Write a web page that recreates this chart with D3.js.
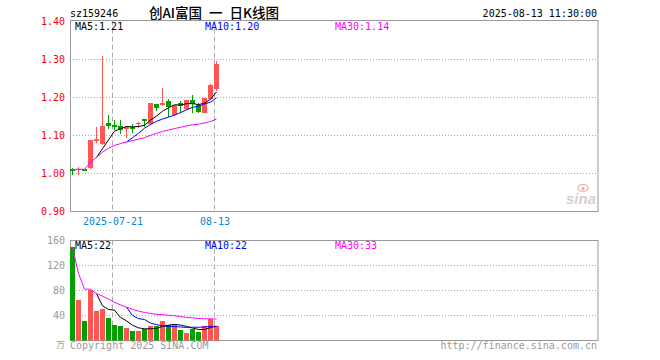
<!DOCTYPE html>
<html><head><meta charset="utf-8">
<script src="https://cdn.jsdelivr.net/npm/d3@7"></script>
<style>html,body{margin:0;padding:0;background:#fff}svg{display:block}</style>
</head><body><svg id="c" width="660" height="360"></svg>
<script>
// ---- data ----
const dates = ["2025-07-10","2025-07-11","2025-07-14","2025-07-15","2025-07-16","2025-07-17","2025-07-18",
 "2025-07-21","2025-07-22","2025-07-23","2025-07-24","2025-07-25","2025-07-28","2025-07-29","2025-07-30",
 "2025-07-31","2025-08-01","2025-08-04","2025-08-05","2025-08-06","2025-08-07","2025-08-08","2025-08-11",
 "2025-08-12","2025-08-13"];
const openP  = [1.013,1.012,1.013,1.017,1.087,1.080,1.134,1.128,1.126,1.120,1.122,1.132,1.143,1.134,1.183,1.183,1.192,1.156,1.185,1.172,1.194,1.181,1.163,1.199,1.225];
const closeP = [1.010,1.013,1.010,1.087,1.091,1.126,1.128,1.126,1.117,1.122,1.120,1.134,1.141,1.185,1.175,1.185,1.178,1.181,1.181,1.194,1.186,1.165,1.199,1.234,1.289];
const highP  = [1.014,1.018,1.013,1.087,1.122,1.310,1.155,1.141,1.141,1.126,1.131,1.135,1.143,1.185,1.183,1.226,1.196,1.181,1.190,1.194,1.207,1.185,1.200,1.236,1.297];
const lowP   = [0.999,1.000,1.008,1.015,1.084,1.078,1.119,1.117,1.106,1.096,1.108,1.122,1.124,1.131,1.168,1.181,1.152,1.154,1.162,1.170,1.163,1.162,1.162,1.197,1.221];
const volume = [149,65.6,32,81.6,47,51.2,36.8,25.6,24,19.7,16,16,18,23.5,23.5,32,25.6,24.5,17.6,12.8,19.2,14.4,23.5,34,23];
const priceTicks = [0.90,1.00,1.10,1.20,1.30,1.40];
const volTicks = [40,80,120,160];
const dateMarks = ["2025-07-21","2025-08-13"];
const dateMarkLabels = ["2025-07-21","08-13"];
const priceMALabels = ["MA5:1.21","MA10:1.20","MA30:1.14"];
const volMALabels = ["MA5:22","MA10:22","MA30:33"];
const maPeriods = [5,10,30];

// ---- layout ----
const L = 70, R = 598;
const pTop = 20.5, pBot = 211.5, vTop = 240.5, vBot = 340.5;
const RED = "#ff5555", GREEN = "#00a000", GRID = "#aaaaaa", FRAME = "#999999";
const maColors = ["#000000", "#0000ff", "#ff00ff"];
const mono = "'DejaVu Sans Mono', monospace";

const svg = d3.select("#c");
const x = d3.scaleLinear().domain([0, 88]).range([69.5, 597.5]);
const cx = i => Math.round(x(i + 0.5) - 0.5) + 0.5;
const y = d3.scaleLinear().domain([0.9, 1.4]).range([211.5, 21.5]);
const yv = d3.scaleLinear().domain([0, 160]).range([vBot, vTop]);

function ma(arr, n) {
  return arr.map((v, i) => {
    if (n >= 30) { const s = arr.slice(0, i + 1); return d3.mean(s); }
    if (i < n - 1) return null;
    return d3.mean(arr.slice(i - n + 1, i + 1));
  });
}

// ---- titles ----
svg.append("text").attr("x", 70).attr("y", 16.5).attr("font-family", mono).attr("font-size", 10)
  .attr("fill", "#000").text("sz159246");
svg.append("text").attr("x", 214).attr("y", 18).attr("text-anchor", "middle")
  .attr("font-family", "'Noto Sans CJK SC', sans-serif").attr("font-size", 13.5).attr("font-weight", 500)
  .attr("word-spacing", 4).style("white-space", "pre")
  .attr("fill", "#000").text("创AI富国 一 日K线图");
svg.append("text").attr("x", 597).attr("y", 16.5).attr("text-anchor", "end").attr("font-family", mono)
  .attr("font-size", 10).attr("fill", "#000").text("2025-08-13 11:30:00");

// ---- grids ----
function panel(top, bot, ticksY) {
  const g = svg.append("g");
  ticksY.forEach(t => g.append("line").attr("x1", L).attr("x2", R).attr("y1", t).attr("y2", t)
    .attr("stroke", GRID).attr("stroke-dasharray", "1,2"));
  dateMarks.forEach(d => {
    const xi = cx(dates.indexOf(d)) - 2;
    g.append("line").attr("x1", xi).attr("x2", xi).attr("y1", top).attr("y2", bot)
      .attr("stroke", "#aaaaaa").attr("stroke-dasharray", "5,3");
  });
  g.append("rect").attr("x", L + 0.5).attr("y", top).attr("width", R - L - 0.5).attr("height", bot - top)
    .attr("fill", "none").attr("stroke", FRAME);
  return g;
}
panel(pTop, pBot, priceTicks.filter(t => t > 0.9 && t < 1.4).map(t => Math.round(y(t) - 0.5) + 0.5));
panel(vTop, vBot, volTicks.filter(t => t < 160).map(t => yv(t)));

// sina watermark
const wm = svg.append("g");
wm.append("text").attr("x", 581).attr("y", 204).attr("text-anchor", "middle")
  .attr("font-family", "'Liberation Sans', Arial, sans-serif").attr("font-style", "italic").attr("font-weight", "bold")
  .attr("font-size", 15).attr("fill", "#d8cfcf").text("sina");
wm.append("ellipse").attr("cx", 583).attr("cy", 188).attr("rx", 5).attr("ry", 3.5).attr("fill", "none")
  .attr("stroke", "#f2b8b8").attr("stroke-width", 1.5);
wm.append("circle").attr("cx", 583).attr("cy", 188.5).attr("r", 1.5).attr("fill", "#e8a0a0");

// ---- axis labels ----
priceTicks.forEach(t => svg.append("text").attr("x", 65).attr("y", y(t) + 3.5).attr("text-anchor", "end")
  .attr("font-family", mono).attr("font-size", 10).attr("fill", "#ff0000").text(t.toFixed(2)));
volTicks.forEach(t => svg.append("text").attr("x", 65).attr("y", yv(t) + 3.5).attr("text-anchor", "end")
  .attr("font-family", mono).attr("font-size", 10).attr("fill", "#9a9a9a").text(t));
svg.append("text").attr("x", 65).attr("y", 348).attr("text-anchor", "end")
  .attr("font-family", "'Noto Sans CJK SC', sans-serif").attr("font-size", 9).attr("fill", "#9a9a9a").text("万");
dateMarks.forEach((d, k) => svg.append("text").attr("x", cx(dates.indexOf(d)) - 1.5).attr("y", 225)
  .attr("text-anchor", "middle").attr("font-family", mono).attr("font-size", 10).attr("fill", "#0a84d8")
  .text(dateMarkLabels[k]));

// ---- candles ----
const cg = svg.append("g");
dates.forEach((d, i) => {
  const up = closeP[i] >= openP[i];
  const col = up ? RED : GREEN;
  const c = cx(i);
  cg.append("line").attr("x1", c).attr("x2", c).attr("y1", Math.round(y(highP[i]))).attr("y2", Math.round(y(lowP[i])) + 1)
    .attr("stroke", col);
  const yt = Math.round(y(Math.max(openP[i], closeP[i])));
  const yb = Math.round(y(Math.min(openP[i], closeP[i])));
  cg.append("rect").attr("x", c - 2.5).attr("y", yt).attr("width", 5).attr("height", Math.max(1, yb - yt + 1))
    .attr("fill", col);
});
// price MAs
maPeriods.forEach((n, k) => {
  const m = ma(closeP, n);
  const line = d3.line().defined(v => v != null).x((v, i) => cx(i)).y(v => y(v));
  svg.append("path").attr("d", line(m)).attr("fill", "none").attr("stroke", maColors[k]).attr("stroke-width", 1);
});

// ---- volume ----
const vg = svg.append("g");
dates.forEach((d, i) => {
  const up = closeP[i] >= openP[i];
  const top = Math.round(yv(volume[i]));
  vg.append("rect").attr("x", cx(i) - 2.5).attr("y", top).attr("width", 5).attr("height", vBot - top)
    .attr("fill", up ? RED : GREEN);
});
maPeriods.forEach((n, k) => {
  const m = ma(volume, n);
  const line = d3.line().defined(v => v != null).x((v, i) => cx(i)).y(v => yv(v));
  svg.append("path").attr("d", line(m)).attr("fill", "none").attr("stroke", maColors[k]).attr("stroke-width", 1);
});

// ---- MA labels ----
const labX = [75, 205, 335];
priceMALabels.forEach((t, k) => svg.append("text").attr("x", labX[k]).attr("y", 30).attr("font-family", mono)
  .attr("font-size", 10).attr("fill", maColors[k]).text(t));
volMALabels.forEach((t, k) => svg.append("text").attr("x", labX[k]).attr("y", 249).attr("font-family", mono)
  .attr("font-size", 10).attr("fill", maColors[k]).text(t));

// ---- footer ----
svg.append("text").attr("x", 70).attr("y", 349).attr("font-family", mono).attr("font-size", 10)
  .attr("fill", "#9a9a9a").text("Copyright 2025 SINA.COM");
svg.append("text").attr("x", 597).attr("y", 349).attr("text-anchor", "end").attr("font-family", mono)
  .attr("font-size", 10).attr("fill", "#9a9a9a").text("http://finance.sina.com.cn");
</script></body></html>
